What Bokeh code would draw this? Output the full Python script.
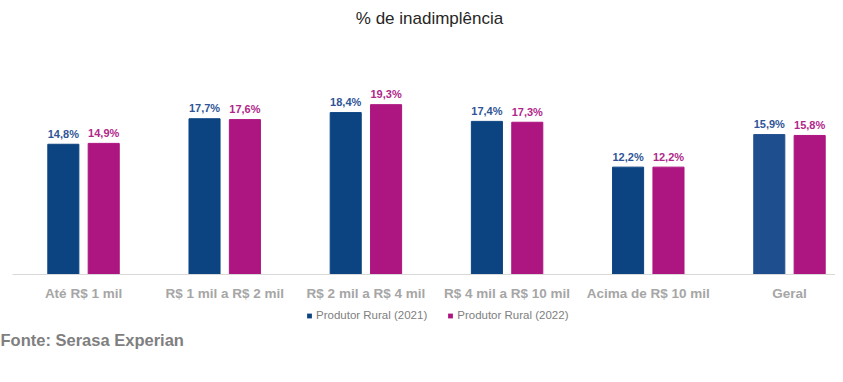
from bokeh.plotting import figure
from bokeh.models import (Range1d, FixedTicker, Label, LabelSet, ColumnDataSource,
                          Legend, LegendItem)
from bokeh.core.properties import value
from bokeh.embed import file_html
from bokeh.resources import INLINE

# ---- data ----
categories = ["Até R$ 1 mil", "R$ 1 mil a R$ 2 mil", "R$ 2 mil a R$ 4 mil",
              "R$ 4 mil a R$ 10 mil", "Acima de R$ 10 mil", "Geral"]
values_2021 = [14.8, 17.7, 18.4, 17.4, 12.2, 15.9]
values_2022 = [14.9, 17.6, 19.3, 17.3, 12.2, 15.8]
series_names = ["Produtor Rural (2021)", "Produtor Rural (2022)"]
title_text = "% de inadimplência"
source_text = "Fonte: Serasa Experian"

# ---- styles ----
FONT = "Liberation Sans"
BLUE = "#0c4482"
BLUE_GERAL = "#1f4e8e"
MAG = "#ad1580"
BLUE_TXT = "#2f5597"
MAG_TXT = "#b0278a"
OFF = 0.143
BW = 0.22
FRAME_H = 362


def fmt(v):
    return f"{v:.1f}%".replace(".", ",")


idx = list(range(len(categories)))
src1 = ColumnDataSource(dict(
    x=[i - OFF for i in idx], top=values_2021,
    label=[fmt(v) for v in values_2021],
    color=[BLUE_GERAL if c == "Geral" else BLUE for c in categories]))
src2 = ColumnDataSource(dict(
    x=[i + OFF for i in idx], top=values_2022,
    label=[fmt(v) for v in values_2022]))

# baseline at 274px from top, 8.8 px per percentage point
p = figure(frame_width=835, frame_height=FRAME_H,
           x_range=Range1d(-0.588, 5.326),
           y_range=Range1d(-(FRAME_H - 274) / 8.8, 274 / 8.8),
           output_backend="svg", toolbar_location=None, y_axis_location=None,
           min_border_left=0, min_border_right=0, min_border_top=0,
           min_border_bottom=0)
p.outline_line_color = None
p.xgrid.visible = False
p.ygrid.visible = False

# legend swatches: zero-size markers on the bar data (invisible in the plot)
r1 = p.scatter(x="x", y="top", source=src1, size=0, marker="square",
               fill_color=BLUE, line_color=None)
r2 = p.scatter(x="x", y="top", source=src2, size=0, marker="square",
               fill_color=MAG, line_color=None)

p.vbar(x="x", top="top", width=BW, bottom=0, source=src1,
       fill_color="color", line_color="color")
p.vbar(x="x", top="top", width=BW, bottom=0, source=src2,
       fill_color=MAG, line_color=MAG)

for src, col in ((src1, BLUE_TXT), (src2, MAG_TXT)):
    p.add_layout(LabelSet(x="x", y="top", text="label", source=src,
                          text_align="center", text_baseline="alphabetic",
                          y_offset=6.5, text_font=value(FONT),
                          text_font_style="bold", text_font_size="11px",
                          text_color=col))

ax = p.xaxis[0]
ax.fixed_location = 0
ax.bounds = (-0.503, 5.326)
ax.ticker = FixedTicker(ticks=idx)
ax.major_label_overrides = {i: c for i, c in zip(idx, categories)}
ax.major_tick_line_color = None
ax.minor_tick_line_color = None
ax.major_tick_out = 0
ax.major_tick_in = 0
ax.axis_line_color = "#d9d9d9"
ax.major_label_standoff = 11
ax.major_label_text_font = FONT
ax.major_label_text_font_style = "bold"
ax.major_label_text_font_size = "13.5px"
ax.major_label_text_color = "#a6a6a6"

legend = Legend(items=[LegendItem(label=series_names[0], renderers=[r1]),
                       LegendItem(label=series_names[1], renderers=[r2])],
                location=(303, FRAME_H - 321.5), orientation="horizontal",
                glyph_width=12, glyph_height=13, label_height=13,
                label_standoff=1, spacing=17, padding=0, margin=0,
                border_line_color=None, background_fill_alpha=0,
                label_text_font=FONT, label_text_font_size="11.5px",
                label_text_color="#808080")
p.add_layout(legend, "center")

p.add_layout(Label(x=429, y=FRAME_H - 18, x_units="screen", y_units="screen",
                   text=title_text, text_align="center", text_baseline="middle",
                   text_font=FONT, text_font_size="17px",
                   text_color="#262626"))
p.add_layout(Label(x=0, y=FRAME_H - 339, x_units="screen", y_units="screen",
                   text=source_text, text_align="left",
                   text_baseline="alphabetic", text_font=FONT,
                   text_font_style="bold", text_font_size="16.5px",
                   text_color="#7f7f7f"))

open("out.html", "w").write(file_html(p, INLINE))
